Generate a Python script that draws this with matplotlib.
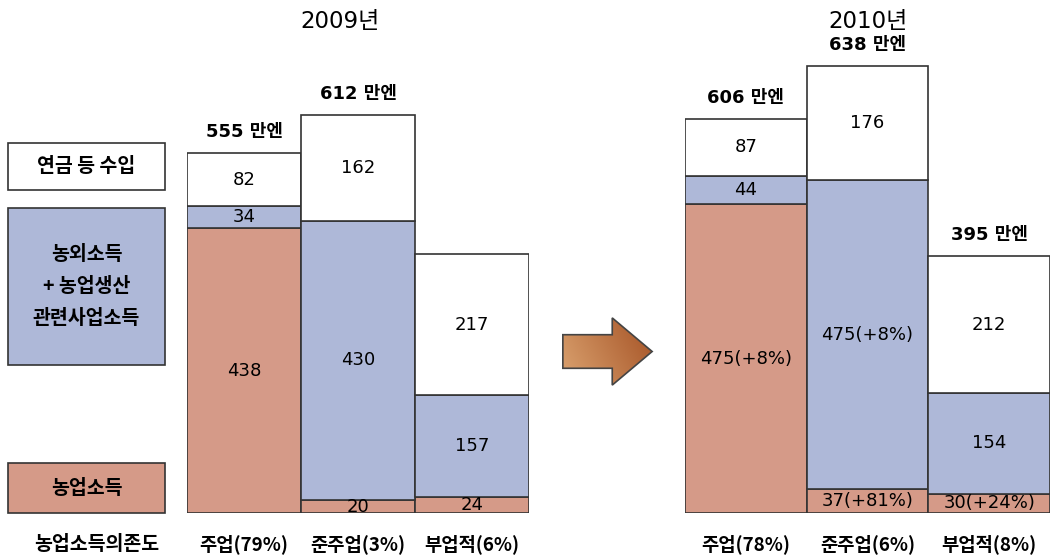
import numpy as np
import matplotlib
matplotlib.use("Agg")
import matplotlib.pyplot as plt
from matplotlib.patches import Rectangle, Polygon

# DejaVu for digits (closer to the original look), Noto CJK for Hangul
plt.rcParams['font.family'] = ['DejaVu Sans', 'Noto Sans CJK KR']
KR = ['Noto Sans CJK KR', 'DejaVu Sans']

# 2009
cats09 = ['주업(79%)', '준주업(3%)', '부업적(6%)']
farm09 = [438, 20, 24]
nonfarm09 = [34, 430, 157]
pension09 = [82, 162, 217]
total09 = ['555 만엔', '612 만엔', None]

# 2010
cats10 = ['주업(78%)', '준주업(6%)', '부업적(8%)']
farm10 = [475, 37, 30]
farm10_chg = ['+8%', '+81%', '+24%']
nonfarm10 = [44, 475, 154]
nonfarm10_chg = ['', '+8%', '']
pension10 = [87, 176, 212]
total10 = ['606 만엔', '638 만엔', '395 만엔']

legend_labels = ['연금 등 수입', '농외소득\n+ 농업생산\n관련사업소득', '농업소득']
dep_label = '농업소득의존도'

C_FARM = '#D59A88'
C_NON = '#AEB8D8'
C_PEN = '#FFFFFF'
EDGE = '#333333'

W, H = 1052, 556
fig = plt.figure(figsize=(W / 100, H / 100), dpi=100)


def px_rect(x0, y0, x1, y1):
    # pixel box (top-left origin) -> figure fraction [l, b, w, h]
    return [x0 / W, 1 - y1 / H, (x1 - x0) / W, (y1 - y0) / H]


def fig_xy(x, y):
    return x / W, 1 - y / H


YMAX = 700
BOTTOM_PX = 513
SCALE = 0.65  # px per unit


def stacked(ax, farm, nonfarm, pension, farm_lab, non_lab, totals, cats):
    x = np.arange(len(farm))
    farm = np.array(farm)
    nonfarm = np.array(nonfarm)
    pension = np.array(pension)
    kw = dict(width=1.0, align='edge', edgecolor=EDGE, linewidth=1.2)
    ax.bar(x, farm, color=C_FARM, **kw)
    ax.bar(x, nonfarm, bottom=farm, color=C_NON, **kw)
    ax.bar(x, pension, bottom=farm + nonfarm, color=C_PEN, **kw)
    for i in range(len(x)):
        cx = x[i] + 0.5
        ax.text(cx, farm[i] / 2, farm_lab[i], ha='center', va='center', fontsize=13)
        ax.text(cx, farm[i] + nonfarm[i] / 2, non_lab[i], ha='center', va='center', fontsize=13)
        ax.text(cx, farm[i] + nonfarm[i] + pension[i] / 2, str(pension[i]),
                ha='center', va='center', fontsize=13)
        top = farm[i] + nonfarm[i] + pension[i]
        if totals[i]:
            ax.annotate(totals[i], (cx, top), xytext=(0, 12), textcoords='offset pixels',
                        ha='center', va='bottom', fontsize=13, fontweight='bold')
        ax.annotate(cats[i], (cx, 0), xytext=(0, -31), textcoords='offset pixels',
                    ha='center', va='center', fontsize=13.5, fontweight='bold',
                    family=KR, annotation_clip=False)
    ax.set_xlim(0, len(x))
    ax.set_ylim(0, YMAX)
    ax.axis('off')


ax_h = YMAX * SCALE
ax09 = fig.add_axes(px_rect(187, BOTTOM_PX - ax_h, 529, BOTTOM_PX))
stacked(ax09, farm09, nonfarm09, pension09,
        [str(v) for v in farm09], [str(v) for v in nonfarm09], total09, cats09)

ax10 = fig.add_axes(px_rect(685, BOTTOM_PX - ax_h, 1050, BOTTOM_PX))
farm10_lab = [f'{v}({c})' for v, c in zip(farm10, farm10_chg)]
non10_lab = [f'{v}({c})' if c else str(v) for v, c in zip(nonfarm10, nonfarm10_chg)]
stacked(ax10, farm10, nonfarm10, pension10, farm10_lab, non10_lab, total10, cats10)

# year titles
fig.text(*fig_xy(340, 22), '2009년', ha='center', va='center', fontsize=16.5)
fig.text(*fig_xy(868, 22), '2010년', ha='center', va='center', fontsize=16.5)

# legend boxes on the left
leg_boxes = [(143, 190, C_PEN), (208, 365, C_NON), (463, 513, C_FARM)]
for (y0, y1, col), lab in zip(leg_boxes, legend_labels):
    l, b, w, h = px_rect(8, y0, 165, y1)
    fig.patches.append(Rectangle((l, b), w, h, transform=fig.transFigure,
                                 facecolor=col, edgecolor=EDGE, linewidth=1.2))
    fig.text(l + w / 2, b + h / 2, lab, ha='center', va='center', fontsize=14,
             fontweight='bold', linespacing=1.9, family=KR)

fig.text(*fig_xy(97, 544), dep_label, ha='center', va='center', fontsize=14,
         fontweight='bold', family=KR)

# gradient arrow
ax_ar = fig.add_axes(px_rect(560, 315, 655, 388))
ax_ar.set_xlim(0, 1)
ax_ar.set_ylim(0, 1)
ax_ar.axis('off')
verts = [(0.03, 0.27), (0.55, 0.27), (0.55, 0.04), (0.97, 0.5),
         (0.55, 0.96), (0.55, 0.73), (0.03, 0.73)]
gx, gy = np.meshgrid(np.linspace(0, 1, 200), np.linspace(0, 1, 200))
grad = (gx + 0.4 * gy) / 1.4
cmap = matplotlib.colors.LinearSegmentedColormap.from_list('ar', ['#DDA673', '#A34F22'])
im = ax_ar.imshow(grad, extent=(0, 1, 0, 1), origin='lower', cmap=cmap, aspect='auto')
poly = Polygon(verts, closed=True, facecolor='none', edgecolor='#444444', linewidth=1.2)
ax_ar.add_patch(poly)
im.set_clip_path(poly)

fig.savefig('out.png', dpi=100)
